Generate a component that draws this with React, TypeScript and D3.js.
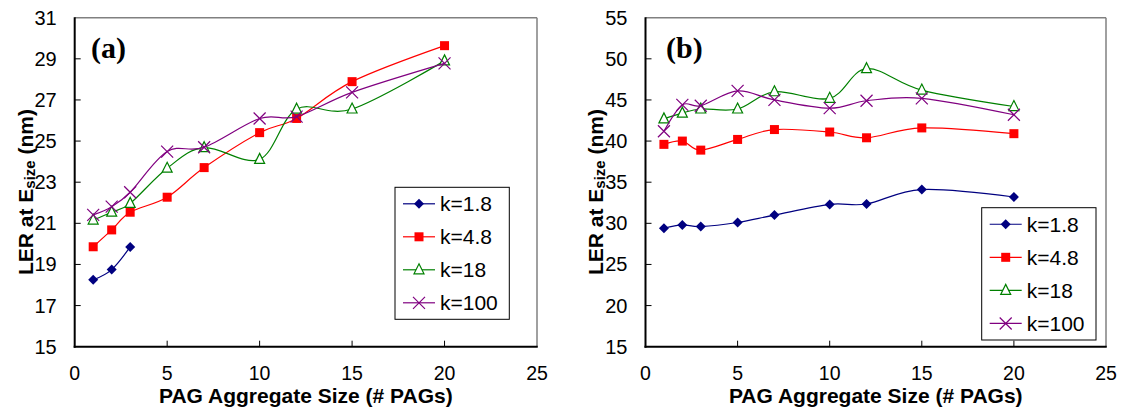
import React from "react";
import * as d3 from "d3";

const X_TICKS = [0, 5, 10, 15, 20, 25];
const A_Y_TICKS = [15, 17, 19, 21, 23, 25, 27, 29, 31];
const B_Y_TICKS = [15, 20, 25, 30, 35, 40, 45, 50, 55];
const SERIES_NAMES = ["k=1.8", "k=4.8", "k=18", "k=100"];
const SIZES = [1, 2, 3, 5, 7, 10, 12, 15, 20];
const SIZES_SHORT = [1, 2, 3];

// Panel (a)
const A_K1_8 = [18.25, 18.75, 19.85];
const A_K4_8 = [19.86, 20.68, 21.54, 22.27, 23.71, 25.41, 26.1, 27.89, 29.64];
const A_K18 = [21.16, 21.54, 21.97, 23.68, 24.68, 24.11, 26.55, 26.56, 28.9];
const A_K100 = [21.41, 21.81, 22.51, 24.49, 24.7, 26.1, 26.19, 27.37, 28.78];

// Panel (b)
const B_K1_8 = [29.4, 29.8, 29.6, 30.1, 31.0, 32.3, 32.35, 34.1, 33.2];
const B_K4_8 = [39.6, 40.0, 38.9, 40.2, 41.4, 41.1, 40.4, 41.6, 40.9];
const B_K18 = [42.7, 43.4, 43.9, 43.9, 46.0, 45.2, 48.8, 46.2, 44.2];
const B_K100 = [41.2, 44.4, 44.3, 46.1, 45.0, 44.0, 44.9, 45.2, 43.2];

const COLORS = ["#000080", "#FF0000", "#008000", "#800080"];
const MARKERS = ["diamond", "square", "triangle", "cross"];

const FONT = "'Liberation Sans', Arial, Helvetica, sans-serif";

function Marker({ type, x, y, color }: { type: string; x: number; y: number; color: string }) {
  if (type === "diamond") {
    const r = 5;
    return <path d={`M${x},${y - r}L${x + r},${y}L${x},${y + r}L${x - r},${y}Z`} fill={color} />;
  }
  if (type === "square") {
    const r = 4.5;
    return <rect x={x - r} y={y - r} width={2 * r} height={2 * r} fill={color} />;
  }
  if (type === "triangle") {
    const r = 5;
    return (
      <path
        d={`M${x},${y - r - 1}L${x + r},${y + r - 1}L${x - r},${y + r - 1}Z`}
        fill="white"
        stroke={color}
        strokeWidth={1.2}
      />
    );
  }
  const r = 6;
  return (
    <path
      d={`M${x - r},${y - r}L${x + r},${y + r}M${x - r},${y + r}L${x + r},${y - r}`}
      stroke={color}
      strokeWidth={1.2}
      fill="none"
    />
  );
}

type PanelProps = {
  left: number;
  right: number;
  top: number;
  bottom: number;
  yDomain: [number, number];
  yTicks: number[];
  series: { xs: number[]; ys: number[] }[];
  label: string;
  labelX: number;
  titleX: number;
  legend: { x: number; y: number; w: number; h: number };
};

function Panel(p: PanelProps) {
  const x = d3.scaleLinear().domain([0, 25]).range([p.left, p.right]);
  const y = d3.scaleLinear().domain(p.yDomain).range([p.bottom, p.top]);
  const line = d3
    .line<[number, number]>()
    .x((d) => x(d[0]))
    .y((d) => y(d[1]))
    .curve(d3.curveCardinal.tension(0));
  const titleY = 192;
  const rowH = p.legend.h / 4;
  return (
    <g>
      {/* frame */}
      <line x1={p.left} x2={p.right} y1={p.top} y2={p.top} stroke="#808080" strokeWidth={1.5} />
      <line x1={p.right} x2={p.right} y1={p.top} y2={p.bottom} stroke="#808080" strokeWidth={1.5} />
      <line x1={p.left} x2={p.left} y1={p.top - 0.5} y2={p.bottom + 1} stroke="black" strokeWidth={2} />
      <line x1={p.left - 1} x2={p.right + 0.75} y1={p.bottom} y2={p.bottom} stroke="black" strokeWidth={2} />
      {/* y ticks */}
      {p.yTicks.map((t) => (
        <g key={"y" + t}>
          {t !== p.yDomain[0] && t !== p.yDomain[1] && (
            <line x1={p.left} x2={p.left + 6} y1={y(t)} y2={y(t)} stroke="black" strokeWidth={1} />
          )}
          <text
            x={p.left - 18}
            y={y(t)}
            dy="0.35em"
            textAnchor="end"
            fontFamily={FONT}
            fontSize={20}
          >
            {t}
          </text>
        </g>
      ))}
      {/* x ticks */}
      {X_TICKS.map((t) => (
        <g key={"x" + t}>
          {t !== 0 && t !== 25 && (
            <line x1={x(t)} x2={x(t)} y1={p.bottom} y2={p.bottom - 6} stroke="black" strokeWidth={1} />
          )}
          <text x={x(t)} y={380} textAnchor="middle" fontFamily={FONT} fontSize={19.5}>
            {t}
          </text>
        </g>
      ))}
      {/* series */}
      {p.series.map((s, i) => {
        const pts: [number, number][] = s.xs.map((xv, j) => [xv, s.ys[j]]);
        return (
          <g key={"s" + i}>
            <path d={line(pts) || ""} fill="none" stroke={COLORS[i]} strokeWidth={1.2} />
            {pts.map((d, j) => (
              <Marker key={j} type={MARKERS[i]} x={x(d[0])} y={y(d[1])} color={COLORS[i]} />
            ))}
          </g>
        );
      })}
      {/* panel label */}
      <text
        x={p.labelX}
        y={58}
        fontFamily="'Liberation Serif', 'Times New Roman', serif"
        fontWeight="bold"
        fontSize={30}
      >
        {p.label}
      </text>
      {/* axis titles */}
      <text
        x={(p.left + p.right) / 2}
        y={403}
        textAnchor="middle"
        fontFamily={FONT}
        fontWeight="bold"
        fontSize={21}
      >
        PAG Aggregate Size (# PAGs)
      </text>
      <text
        transform={`translate(${p.titleX},${titleY}) rotate(-90)`}
        textAnchor="middle"
        dy="0.35em"
        fontFamily={FONT}
        fontWeight="bold"
        fontSize={21}
      >
        LER at E
        <tspan fontSize={15} dy={2}>
          size
        </tspan>
        <tspan dy={-2}> (nm)</tspan>
      </text>
      {/* legend */}
      <rect
        x={p.legend.x}
        y={p.legend.y}
        width={p.legend.w}
        height={p.legend.h}
        fill="white"
        stroke="black"
        strokeWidth={1}
      />
      {SERIES_NAMES.map((n, i) => {
        const cy = p.legend.y + rowH * (i + 0.5);
        const lx = p.legend.x + 8;
        return (
          <g key={"l" + i}>
            <line x1={lx} x2={lx + 32} y1={cy} y2={cy} stroke={COLORS[i]} strokeWidth={1.2} />
            <Marker type={MARKERS[i]} x={lx + 16} y={cy} color={COLORS[i]} />
            <text x={lx + 37} y={cy} dy="0.36em" fontFamily={FONT} fontSize={21}>
              {n}
            </text>
          </g>
        );
      })}
    </g>
  );
}

export default function App() {
  const aSeries = [
    { xs: SIZES_SHORT, ys: A_K1_8 },
    { xs: SIZES, ys: A_K4_8 },
    { xs: SIZES, ys: A_K18 },
    { xs: SIZES, ys: A_K100 },
  ];
  const bSeries = [
    { xs: SIZES, ys: B_K1_8 },
    { xs: SIZES, ys: B_K4_8 },
    { xs: SIZES, ys: B_K18 },
    { xs: SIZES, ys: B_K100 },
  ];
  return (
    <svg
      width={1122}
      height={408}
      style={{ position: "absolute", left: 0, top: 0, background: "white" }}
    >
      <rect width={1122} height={408} fill="white" />
      <Panel
        left={74.7}
        right={537}
        top={17.7}
        bottom={346.7}
        yDomain={[15, 31]}
        yTicks={A_Y_TICKS}
        series={aSeries}
        label="(a)"
        labelX={91}
        titleX={26}
        legend={{ x: 395, y: 187.3, w: 114.3, h: 132 }}
      />
      <Panel
        left={645.5}
        right={1106}
        top={17.7}
        bottom={346.7}
        yDomain={[15, 55]}
        yTicks={B_Y_TICKS}
        series={bSeries}
        label="(b)"
        labelX={666}
        titleX={596}
        legend={{ x: 981.7, y: 207.7, w: 114.3, h: 132.3 }}
      />
    </svg>
  );
}
